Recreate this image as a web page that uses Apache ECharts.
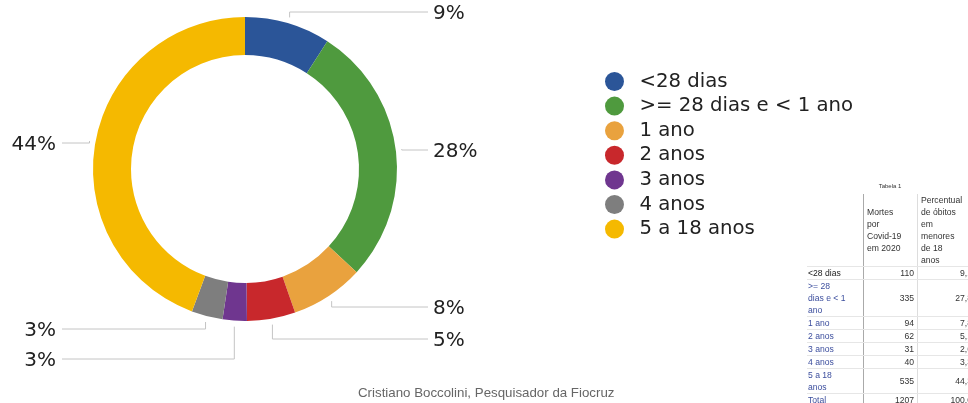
<!DOCTYPE html>
<html>
<head>
<meta charset="utf-8">
<script src="https://cdn.jsdelivr.net/npm/echarts@6/dist/echarts.min.js"></script>
<style>
  html, body { margin: 0; padding: 0; background: #fff; overflow: hidden; }
  #chart { width: 968px; height: 403px; position: absolute; left: 0; top: 0; }
  #tbl { position: absolute; left: 807px; top: 181px; font-family: "Liberation Sans", Arial, sans-serif; font-size: 8.6px; color: #333; filter: blur(0.4px); }
  #tbl .cap { width: 166px; text-align: center; font-size: 6px; height: 13px; line-height: 10px; }
  #tbl table { border-collapse: collapse; table-layout: fixed; }
  #tbl td { padding: 0 1px; line-height: 12px; vertical-align: middle; border-bottom: 1px solid #e6e6e6; white-space: nowrap; overflow: hidden; }
  #tbl td.c1 { width: 54px; color: #3d4f9e; }
  #tbl td.c2 { width: 47px; text-align: right; border-left: 1px solid #aaa; padding-right: 3px; }
  #tbl td.c3 { width: 51px; text-align: right; border-left: 1px solid #ddd; padding-right: 0; overflow: visible; }
  #tbl td.h2 { text-align: left; padding-left: 3px; }
  #tbl td.h3 { text-align: left; padding-left: 3px; }
</style>
</head>
<body>
<div id="chart"></div>
<div id="tbl"></div>
<script>
// ---- Data ----
var categories = ['<28 dias', '>= 28 dias e < 1 ano', '1 ano', '2 anos', '3 anos', '4 anos', '5 a 18 anos'];
var deaths = [110, 335, 94, 62, 31, 40, 535];
var tableRowLabels = ['<28 dias', '>= 28 dias e < 1 ano', '1 ano', '2 anos', '3 anos', '4 anos', '5 a 18 anos', 'Total'];
var tableDeaths = [110, 335, 94, 62, 31, 40, 535, 1207];
var tablePercent = ['9,1', '27,8', '7,8', '5,1', '2,6', '3,3', '44,3', '100,0'];
var tableTitle = 'Tabela 1';
var tableHeaderDeaths = ['Mortes', 'por', 'Covid-19', 'em 2020'];
var tableHeaderPercent = ['Percentual', 'de óbitos', 'em', 'menores', 'de 18', 'anos'];
var footerText = 'Cristiano Boccolini, Pesquisador da Fiocruz';

// ---- Styles ----
var colors = ['#2b5598', '#4f9a3e', '#e9a23e', '#c8282c', '#6f368f', '#7e7e7e', '#f5b900'];
var center = [245, 169];
var labelPlace = [
  { side: 'r', lineY: 12 },
  { side: 'r', lineY: 150 },
  { side: 'r', lineY: 307 },
  { side: 'r', lineY: 339 },
  { side: 'l', lineY: 359 },
  { side: 'l', lineY: 329 },
  { side: 'l', lineY: 143 }
];
var rightLineEnd = 428, rightTextX = 433, leftLineEnd = 62, leftTextX = 56;

var total = deaths.reduce(function (a, b) { return a + b; }, 0);

var chart = echarts.init(document.getElementById('chart'), null, { renderer: 'canvas' });
chart.setOption({
  animation: false,
  color: colors,
  legend: {
    orient: 'vertical',
    left: 600,
    top: 66.5,
    icon: 'circle',
    itemWidth: 34,
    itemHeight: 19,
    itemGap: 4.6,
    textStyle: { fontFamily: 'DejaVu Sans', fontSize: 19.7, color: '#222', lineHeight: 19, padding: [0, 0, 0, 3] },
    data: categories
  },
  graphic: [{
    type: 'text',
    left: 358,
    top: 387,
    style: { text: footerText, font: '13.3px "Liberation Sans", Arial, sans-serif', fill: '#666' }
  }],
  series: [{
    type: 'pie',
    center: center,
    radius: [114, 152],
    startAngle: 90,
    clockwise: true,
    avoidLabelOverlap: false,
    data: categories.map(function (c, i) { return { name: c, value: deaths[i] }; }),
    label: {
      show: true,
      formatter: function (p) { return Math.round(p.value / total * 100) + '%'; },
      fontFamily: 'DejaVu Sans',
      fontSize: 20,
      color: '#222'
    },
    labelLine: { show: true, lineStyle: { color: '#c4c4c4', width: 1 } },
    emphasis: { disabled: true },
    labelLayout: function (params) {
      var i = params.dataIndex;
      var pl = labelPlace[i];
      var p0 = params.labelLinePoints ? params.labelLinePoints[0] : center;
      var dx = p0[0] - center[0], dy = p0[1] - center[1];
      var len = Math.sqrt(dx * dx + dy * dy) || 1;
      var ext = 6;
      var sx = p0[0] + dx / len * ext, sy = p0[1] + dy / len * ext;
      var endX = pl.side === 'r' ? rightLineEnd : leftLineEnd;
      return {
        x: pl.side === 'r' ? rightTextX : leftTextX,
        y: pl.lineY + 2,
        align: pl.side === 'r' ? 'left' : 'right',
        verticalAlign: 'middle',
        labelLinePoints: [[sx, sy], [sx, pl.lineY], [endX, pl.lineY]]
      };
    }
  }]
});

// ---- Table (image-like inset) ----
var html = '<div class="cap">' + tableTitle + '</div><table>';
html += '<tr><td class="c1"></td><td class="c2 h2">' + tableHeaderDeaths.join('<br>') +
        '</td><td class="c3 h3">' + tableHeaderPercent.join('<br>') + '</td></tr>';
var wrapped = ['<28 dias', '>= 28<br>dias e < 1<br>ano', '1 ano', '2 anos', '3 anos', '4 anos', '5 a 18<br>anos', 'Total'];
for (var r = 0; r < tableRowLabels.length; r++) {
  var lbl = wrapped[r].replace(/</g, '&lt;').replace(/&lt;br>/g, '<br>');
  html += '<tr><td class="c1"' + (r === 0 ? ' style="color:#222"' : '') + '>' + lbl + '</td><td class="c2">' +
          tableDeaths[r] + '</td><td class="c3">' + tablePercent[r] + '</td></tr>';
}
html += '</table>';
document.getElementById('tbl').innerHTML = html;
</script>
</body>
</html>
